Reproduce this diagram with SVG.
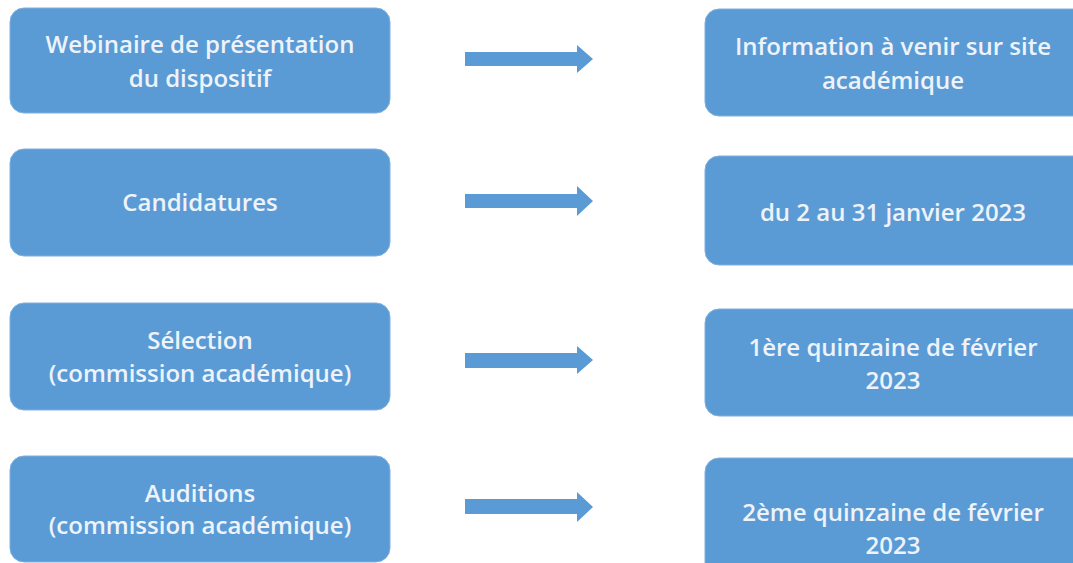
<svg xmlns="http://www.w3.org/2000/svg" width="1073" height="563" viewBox="0 0 1073 563">
<style>
.box{fill:#5b9bd5;stroke:#7fb0de;stroke-width:1}
.t{font-family:"Open Sans","Noto Sans",sans-serif;font-size:24px;font-weight:600;fill:#eef3fa;text-anchor:middle}
.arr{fill:#5b9bd5}
</style>
<rect width="1073" height="563" fill="#ffffff"/>
<g id="n1"><rect class="box" x="10" y="8" width="380" height="105" rx="14"/><text class="t" x="200" y="53">Webinaire de présentation</text><text class="t" x="200" y="87">du dispositif</text></g>
<g id="n2"><rect class="box" x="10" y="149" width="380" height="107" rx="14"/><text class="t" x="200" y="211">Candidatures</text></g>
<g id="n3"><rect class="box" x="10" y="303" width="380" height="107" rx="14"/><text class="t" x="200" y="349">Sélection</text><text class="t" x="200" y="382">(commission académique)</text></g>
<g id="n4"><rect class="box" x="10" y="456" width="380" height="106" rx="14"/><text class="t" x="200" y="502">Auditions</text><text class="t" x="200" y="534">(commission académique)</text></g>
<g id="r1"><rect class="box" x="705" y="9" width="390" height="107" rx="14"/><text class="t" x="893" y="55">Information à venir sur site</text><text class="t" x="893" y="89">académique</text></g>
<g id="r2"><rect class="box" x="705" y="156" width="390" height="109" rx="14"/><text class="t" x="893" y="221">du 2 au 31 janvier 2023</text></g>
<g id="r3"><rect class="box" x="705" y="309" width="390" height="107" rx="14"/><text class="t" x="893" y="356">1ère quinzaine de février</text><text class="t" x="893" y="389">2023</text></g>
<g id="r4"><rect class="box" x="705" y="458" width="390" height="120" rx="14"/><text class="t" x="893" y="521">2ème quinzaine de février</text><text class="t" x="893" y="554">2023</text></g>
<g id="connectors">
<path class="arr" d="M465 52 H577 V45 L593 59 L577 73 V66 H465 Z"/>
<path class="arr" d="M465 194 H577 V186 L593 201 L577 216 V208 H465 Z"/>
<path class="arr" d="M465 353 H577 V346 L593 360 L577 374 V368 H465 Z"/>
<path class="arr" d="M465 499 H577 V492 L593 507 L577 522 V514 H465 Z"/>
</g>
</svg>
